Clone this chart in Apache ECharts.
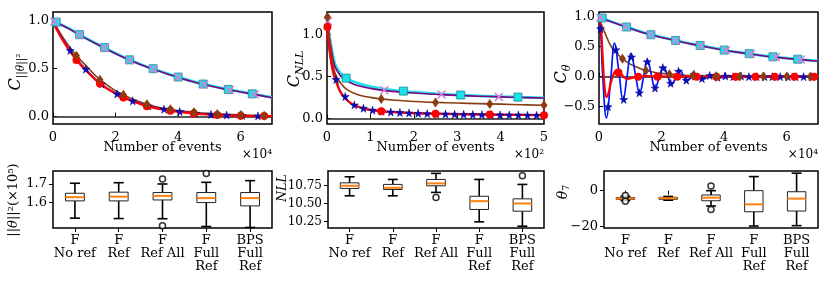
<!DOCTYPE html>
<html><head><meta charset="utf-8">
<script src="https://cdn.jsdelivr.net/npm/echarts@6/dist/echarts.min.js"></script>
<style>html,body{margin:0;padding:0;background:#fff}#c{width:831px;height:286px}</style>
</head><body><div id="c"></div>
<script>
// ---------- Panel 1: C_{||theta||^2} vs number of events (x 1e4) ----------
const p1X = [0,0.25,0.5,0.75,1,1.5,2,2.5,3,3.5,4,4.5,5,5.5,6,6.5,7];
const p1Cyan   = [1.0,0.96,0.92,0.873,0.826,0.742,0.66,0.585,0.52,0.465,0.413,0.365,0.325,0.29,0.26,0.23,0.2];
const p1Purple = [1.0,0.958,0.917,0.87,0.823,0.738,0.656,0.582,0.517,0.462,0.41,0.362,0.322,0.287,0.257,0.228,0.198];
const p1Blue   = [0.99,0.84,0.71,0.6,0.51,0.35,0.245,0.17,0.115,0.08,0.055,0.037,0.025,0.017,0.012,0.008,0.006];
const p1Red    = [0.98,0.83,0.7,0.59,0.5,0.345,0.24,0.165,0.11,0.075,0.05,0.033,0.022,0.015,0.01,0.007,0.005];
const p1Brown  = [1.0,0.86,0.74,0.635,0.55,0.385,0.27,0.19,0.13,0.09,0.065,0.047,0.034,0.025,0.018,0.013,0.01];
const p1CyanMk   = [[0.1,0.985],[0.85,0.854],[1.65,0.72],[2.45,0.592],[3.2,0.5],[4.0,0.413],[4.8,0.34],[5.6,0.284],[6.37,0.238]];
const p1PurpleMk = [[0.05,0.99],[0.85,0.85],[1.65,0.716],[2.45,0.588],[3.2,0.496],[4.0,0.41],[4.83,0.335],[5.65,0.278],[6.45,0.231]];
const p1BlueMk   = [[0.55,0.69],[1.05,0.495],[1.55,0.34],[2.05,0.237],[2.55,0.165],[3.05,0.112],[3.55,0.078],[4.05,0.053],[4.55,0.036],[5.05,0.024],[5.55,0.017],[6.05,0.012],[6.55,0.008]];
const p1RedMk    = [[0.75,0.59],[1.5,0.345],[2.25,0.2],[3.0,0.11],[3.75,0.062],[4.5,0.033],[5.25,0.018],[6.0,0.01],[6.75,0.006]];
const p1BrownMk  = [[0.75,0.635],[1.5,0.385],[2.25,0.228],[3.0,0.13],[3.75,0.077],[4.5,0.047],[5.25,0.029],[6.0,0.018],[6.75,0.011]];
const p1XTicks = [0,2,4,6];
const p1YTicks = [0,0.5,1.0];

// ---------- Panel 2: C_NLL (x 1e2) ----------
const p2X = [0,0.05,0.1,0.15,0.2,0.3,0.4,0.5,0.6,0.8,1.0,1.25,1.5,2,2.5,3,3.5,4,4.5,5];
const p2Cyan   = [1.18,1.0,0.85,0.72,0.63,0.545,0.495,0.465,0.44,0.405,0.38,0.355,0.337,0.312,0.295,0.28,0.268,0.26,0.252,0.245];
const p2Purple = [1.18,0.98,0.82,0.68,0.6,0.515,0.465,0.435,0.41,0.38,0.358,0.337,0.322,0.302,0.287,0.274,0.264,0.256,0.249,0.242];
const p2Brown  = [1.22,0.98,0.78,0.62,0.52,0.43,0.37,0.33,0.305,0.27,0.25,0.232,0.218,0.2,0.19,0.182,0.175,0.169,0.162,0.156];
const p2Red    = [1.1,0.85,0.66,0.53,0.45,0.32,0.25,0.2,0.165,0.125,0.1,0.085,0.075,0.062,0.055,0.05,0.046,0.043,0.04,0.037];
const p2Blue   = [1.08,0.84,0.66,0.54,0.47,0.33,0.255,0.2,0.163,0.122,0.098,0.083,0.073,0.06,0.053,0.048,0.044,0.041,0.038,0.036];
const p2CyanMk   = [[0.44,0.48],[1.76,0.325],[3.08,0.278],[4.4,0.253]];
const p2PurpleMk = [[0.02,1.16],[1.32,0.335],[2.64,0.284],[3.96,0.256]];
const p2BrownMk  = [[0.01,1.21],[1.25,0.232],[2.5,0.19],[3.75,0.172],[5.0,0.156]];
const p2RedMk    = [[0.01,1.09],[1.25,0.085],[2.5,0.055],[3.75,0.044],[5.0,0.037]];
const p2BlueMk   = [[0.21,0.465],[0.42,0.26],[0.63,0.16],[0.84,0.12],[1.05,0.097],[1.26,0.083],[1.47,0.075],[1.68,0.069],[1.89,0.064],[2.1,0.06],[2.31,0.056],[2.52,0.053],[2.73,0.051],[2.94,0.049],[3.15,0.047],[3.36,0.045],[3.57,0.044],[3.78,0.042],[3.99,0.041],[4.2,0.04],[4.41,0.039],[4.62,0.038],[4.83,0.037]];
const p2XTicks = [0,1,2,3,4,5];
const p2YTicks = [0,0.5,1.0];

// ---------- Panel 3: C_theta (x 1e4) ----------
const p3SlowX  = [0,0.5,1,1.5,2,2.5,3,3.5,4,4.5,5,5.5,6,6.5,7];
const p3Cyan   = [1.0,0.9,0.81,0.725,0.66,0.6,0.545,0.495,0.445,0.405,0.37,0.335,0.31,0.285,0.262];
const p3Purple = [0.99,0.895,0.805,0.72,0.655,0.595,0.54,0.49,0.442,0.402,0.366,0.332,0.306,0.282,0.258];
const p3BrownX = [0,0.1,0.2,0.35,0.5,0.75,1,1.25,1.5,1.75,2,2.5,3,3.5,4,5,6,7];
const p3Brown  = [0.97,0.84,0.72,0.54,0.43,0.3,0.21,0.15,0.105,0.075,0.055,0.03,0.015,0.008,0.005,0.002,0.001,0.0];
const p3RedX   = [0,0.06,0.12,0.18,0.24,0.3,0.38,0.46,0.55,0.63,0.72,0.82,0.92,1.05,1.25,1.5,2,3,4,5,6,7];
const p3Red    = [1.0,0.85,0.3,-0.18,-0.34,-0.28,-0.1,0.03,0.1,0.1,0.04,-0.02,-0.035,-0.02,0.0,0.01,0.005,0,0,0,0,0];
const p3BlueX  = [0,0.05,0.12,0.24,0.37,0.5,0.635,0.77,0.895,1.02,1.16,1.3,1.425,1.55,1.67,1.79,1.93,2.07,2.195,2.32,2.455,2.59,2.695,2.8,2.94,3.08,3.215,3.35,3.485,3.62,3.76,3.9,4.05,4.2,4.35,4.5,4.7,5,5.5,6,6.5,7];
const p3Blue   = [1.0,0.8,0.0,-0.69,-0.07,0.56,0.08,-0.39,0.0,0.39,0.05,-0.28,0.0,0.28,0.04,-0.19,-0.01,0.16,0.01,-0.13,-0.01,0.11,0.02,-0.07,-0.01,0.05,0.0,-0.04,0.0,0.03,0.0,-0.02,0.0,0.015,0.0,-0.01,0.0,0.005,0.0,0.0,0.0,0.0];
const p3CyanMk   = [[0.1,0.98],[0.88,0.83],[1.66,0.70],[2.45,0.605],[3.23,0.522],[4.0,0.445],[4.8,0.384],[5.56,0.332],[6.35,0.292]];
const p3PurpleMk = [[0.05,0.985],[0.85,0.83],[1.65,0.70],[2.45,0.6],[3.25,0.517],[4.05,0.44],[4.85,0.377],[5.65,0.326],[6.45,0.286]];
const p3BlueMk   = [[0.05,0.8],[0.29,-0.5],[0.54,0.45],[0.79,-0.38],[1.04,0.33],[1.29,-0.27],[1.54,0.25],[1.79,-0.19],[2.04,0.15],[2.29,-0.11],[2.54,0.09],[2.79,-0.06],[3.04,0.04],[3.29,-0.03],[3.54,0.02],[3.79,-0.01],[4.04,0.01],[4.29,0.0],[4.54,0.01],[4.79,0.0],[5.04,0.0],[5.29,0.0],[5.54,0.0],[5.79,0.0],[6.04,0.0],[6.29,0.0],[6.54,0.0],[6.79,0.0]];
const p3RedMk    = [[0.62,0.07],[1.25,0.0],[1.87,0.0],[2.5,0.0],[3.12,0.0],[3.75,0.0],[4.37,0.0],[5.0,0.0],[5.62,0.0],[6.25,0.0],[6.87,0.0]];
const p3BrownMk  = [[0.75,0.3],[1.5,0.105],[2.25,0.04],[3.0,0.015],[3.75,0.006],[4.5,0.003],[5.25,0.002],[6.0,0.001],[6.75,0.0]];
const p3XTicks = [0,2,4,6];
const p3YTicks = [-0.5,0,0.5,1.0];

// ---------- Box plots: [min, Q1, median, Q3, max] ----------
const boxCats = ['F\nNo ref','F\nRef','F\nRef All','F\nFull\nRef','BPS\nFull\nRef'];
const normBox  = [[1.516,1.609,1.629,1.650,1.704],[1.514,1.609,1.632,1.656,1.707],[1.513,1.614,1.636,1.654,1.700],[1.471,1.600,1.624,1.654,1.709],[1.466,1.582,1.624,1.654,1.718]];
const normOut  = [[2,1.727],[2,1.475],[3,1.757]];
const nllBox   = [[10.606,10.708,10.745,10.786,10.870],[10.606,10.694,10.717,10.764,10.833],[10.653,10.745,10.778,10.833,10.917],[10.245,10.417,10.532,10.600,10.833],[10.185,10.393,10.500,10.564,10.764]];
const nllOut   = [[2,10.583],[4,10.883]];
const thetaBox = [[-5.5,-4.8,-4.3,-3.8,-3.1],[-5.3,-4.8,-4.2,-3.7,-3.2],[-8.5,-5.6,-3.9,-2.4,0.0],[-19.6,-11.7,-7.6,0.0,7.8],[-19.4,-11.3,-4.4,-0.6,9.7]];
const thetaOut = [[0,-2.7],[0,-5.9],[2,2.6],[2,-10.4]];
const normYTicks = [1.6,1.7];
const nllYTicks = [10.25,10.5,10.75];
const thetaYTicks = [-20,0];

// ---------- styling ----------
const FONT = '"DejaVu Serif", serif';
const FS = 13;
const STAR = 'path://M50,0 L61,35 L98,35 L68,57 L79,91 L50,70 L21,91 L32,57 L2,35 L39,35 Z';
const XMARK = 'path://M0,12 L12,0 L50,38 L88,0 L100,12 L62,50 L100,88 L88,100 L50,62 L12,100 L0,88 L38,50 Z';
const C = {cyan:'#1fe0ea', cyanEdge:'#178a8f', purple:'#800080', xmk:'#d47fd6', red:'#ff0000', brown:'#8b3d12', blue:'#0018ff', star:'#0a0ac8'};
const minus = s => String(s).replace('-', '\u2212');

const grids = [
  {left:53, top:12, width:219, height:112},
  {left:327, top:12, width:217, height:112},
  {left:599, top:12, width:219, height:112},
  {left:53, top:171, width:219, height:57},
  {left:328, top:171, width:216, height:57},
  {left:604, top:171, width:214, height:57}
].map(g => Object.assign(g, {show:true, borderColor:'#000', borderWidth:1.5, backgroundColor:'transparent'}));

function valX(gi, max, ticks) {
  return {gridIndex:gi, type:'value', min:0, max:max, axisLine:{show:false}, splitLine:{show:false},
    axisTick:{show:true, inside:true, length:4, customValues:ticks, lineStyle:{color:'#000', width:1}},
    axisLabel:{customValues:ticks, color:'#000', fontFamily:FONT, fontSize:FS, margin:7, formatter:v=>String(v)}};
}
function valY(gi, min, max, ticks, dec, inside, fs) {
  return {gridIndex:gi, type:'value', min:min, max:max, axisLine:{show:false}, splitLine:{show:false},
    axisTick:{show:true, inside:inside, length:4, customValues:ticks, lineStyle:{color:'#000', width:1}},
    axisLabel:{customValues:ticks, color:'#000', fontFamily:FONT, fontSize:fs || FS, margin:inside?4:6, formatter:v=>minus(v.toFixed(dec))}};
}
function catX(gi) {
  return {gridIndex:gi, type:'category', data:boxCats, boundaryGap:true, axisLine:{show:false}, splitLine:{show:false},
    axisTick:{show:true, alignWithLabel:true, inside:false, length:4, lineStyle:{color:'#000', width:1}},
    axisLabel:{interval:0, color:'#000', fontFamily:FONT, fontSize:FS, lineHeight:13, margin:6}};
}

function line(gi, xs, ys, color, width, z) {
  return {type:'line', xAxisIndex:gi, yAxisIndex:gi, data:xs.map((x,i)=>[x, ys[i]]), smooth:0.45,
    showSymbol:false, symbol:'none', lineStyle:{color:color, width:width}, z:z, silent:true};
}
function marks(gi, pts, symbol, size, fill, edge, bw, z) {
  return {type:'scatter', xAxisIndex:gi, yAxisIndex:gi, data:pts, symbol:symbol, symbolSize:size,
    itemStyle:{color:fill, borderColor:edge, borderWidth:bw, opacity:1}, z:z, silent:true};
}
function zeroLine(gi) {
  return {type:'line', xAxisIndex:gi, yAxisIndex:gi, data:[], z:1, silent:true,
    markLine:{silent:true, symbol:'none', label:{show:false}, data:[{yAxis:0}], lineStyle:{color:'#222', width:1.6, type:'solid'}}};
}
function topSeries(gi, d) {
  return [
    zeroLine(gi),
    line(gi, d.cx, d.cyan, C.cyan, 2.8, 2),
    line(gi, d.cx, d.purple, C.purple, 1.6, 3),
    line(gi, d.bx, d.brown, C.brown, 1.6, 4),
    line(gi, d.ux, d.blue, C.blue, 1.7, 5),
    line(gi, d.rx, d.red, C.red, 2.2, 6),
    marks(gi, d.cm, 'rect', 8, C.cyan, C.cyanEdge, 0.8, 7),
    marks(gi, d.pm, XMARK, 9, C.xmk, C.xmk, 0, 8),
    marks(gi, d.um, STAR, 8, C.star, '#000080', 0.5, 9),
    marks(gi, d.rm, 'circle', 8, C.red, C.red, 0, 10),
    marks(gi, d.bm, 'diamond', [7,10], C.brown, C.brown, 0, 11)
  ];
}

function boxItem(params, api) {
  const c = api.value(0);
  const lo = api.coord([c, api.value(1)]), q1 = api.coord([c, api.value(2)]), md = api.coord([c, api.value(3)]);
  const q3 = api.coord([c, api.value(4)]), hi = api.coord([c, api.value(5)]);
  const band = api.size([1, 0])[0];
  const bw = band * 0.43, cw = band * 0.23, x = lo[0];
  const wl = {stroke:'#000', lineWidth:1.6};
  return {type:'group', children:[
    {type:'line', shape:{x1:x, y1:lo[1], x2:x, y2:q1[1]}, style:wl},
    {type:'line', shape:{x1:x, y1:q3[1], x2:x, y2:hi[1]}, style:wl},
    {type:'line', shape:{x1:x-cw/2, y1:lo[1], x2:x+cw/2, y2:lo[1]}, style:wl},
    {type:'line', shape:{x1:x-cw/2, y1:hi[1], x2:x+cw/2, y2:hi[1]}, style:wl},
    {type:'rect', shape:{x:x-bw/2, y:q3[1], width:bw, height:q1[1]-q3[1]}, style:{fill:'#fff', stroke:'#222', lineWidth:1}},
    {type:'line', shape:{x1:x-bw/2, y1:md[1], x2:x+bw/2, y2:md[1]}, style:{stroke:'#ff7f0e', lineWidth:2}}
  ]};
}
function boxSeries(gi, box, out) {
  return [
    {type:'custom', xAxisIndex:gi, yAxisIndex:gi, renderItem:boxItem, silent:true, z:3,
      encode:{x:0, y:[1,2,3,4,5]}, data:box.map((b,i)=>[i].concat(b))},
    {type:'scatter', xAxisIndex:gi, yAxisIndex:gi, data:out, symbol:'circle', symbolSize:6, silent:true, z:4,
      itemStyle:{color:'#fff', borderColor:'#000', borderWidth:1.5}}
  ];
}

const series = [].concat(
  topSeries(0, {cx:p1X, cyan:p1Cyan, purple:p1Purple, bx:p1X, brown:p1Brown, ux:p1X, blue:p1Blue, rx:p1X, red:p1Red,
    cm:p1CyanMk, pm:p1PurpleMk, um:p1BlueMk, rm:p1RedMk, bm:p1BrownMk}),
  topSeries(1, {cx:p2X, cyan:p2Cyan, purple:p2Purple, bx:p2X, brown:p2Brown, ux:p2X, blue:p2Blue, rx:p2X, red:p2Red,
    cm:p2CyanMk, pm:p2PurpleMk, um:p2BlueMk, rm:p2RedMk, bm:p2BrownMk}),
  topSeries(2, {cx:p3SlowX, cyan:p3Cyan, purple:p3Purple, bx:p3BrownX, brown:p3Brown, ux:p3BlueX, blue:p3Blue, rx:p3RedX, red:p3Red,
    cm:p3CyanMk, pm:p3PurpleMk, um:p3BlueMk, rm:p3RedMk, bm:p3BrownMk}),
  boxSeries(3, normBox, normOut),
  boxSeries(4, nllBox, nllOut),
  boxSeries(5, thetaBox, thetaOut)
);

const T = (o) => Object.assign({fontFamily:FONT, fill:'#000', align:'center', verticalAlign:'middle'}, o);
const it = (fs) => ({fontFamily:FONT, fontSize:fs, fontStyle:'italic'});
const up = (fs) => ({fontFamily:FONT, fontSize:fs});
const graphic = [
  {type:'text', x:16, y:72, rotation:Math.PI/2, style:T({text:'{c|C}{s|||}{si|θ}{s|||²}',
    rich:{c:Object.assign(it(16),{lineHeight:22}), s:Object.assign(up(10.5),{lineHeight:11, verticalAlign:'bottom'}), si:Object.assign(it(10.5),{lineHeight:11, verticalAlign:'bottom'})}})},
  {type:'text', x:295, y:69, rotation:Math.PI/2, style:T({text:'{c|C}{s|NLL}',
    rich:{c:Object.assign(it(16),{lineHeight:22}), s:Object.assign(it(11),{lineHeight:11, verticalAlign:'bottom'})}})},
  {type:'text', x:562, y:74, rotation:Math.PI/2, style:T({text:'{c|C}{s|θ}',
    rich:{c:Object.assign(it(16),{lineHeight:22}), s:Object.assign(it(11),{lineHeight:11, verticalAlign:'bottom'})}})},
  {type:'text', x:14, y:200, rotation:Math.PI/2, style:T({text:'{n|||}{i|θ}{n|||²(×10⁵)}', rich:{n:up(13), i:it(13)}})},
  {type:'text', x:283, y:188, rotation:Math.PI/2, style:T({text:'NLL', fontSize:12.5, fontStyle:'italic'})},
  {type:'text', x:563, y:192, rotation:Math.PI/2, style:T({text:'{c|θ}{s|7}',
    rich:{c:Object.assign(it(14),{lineHeight:18}), s:Object.assign(up(9.5),{lineHeight:10, verticalAlign:'bottom'})}})},
  {type:'text', x:162.5, y:148, style:T({text:'Number of events', fontSize:FS})},
  {type:'text', x:435.5, y:148, style:T({text:'Number of events', fontSize:FS})},
  {type:'text', x:708.5, y:148, style:T({text:'Number of events', fontSize:FS})},
  {type:'text', x:272, y:155, style:T({text:'×10⁴', fontSize:12, align:'right'})},
  {type:'text', x:544, y:155, style:T({text:'×10²', fontSize:12, align:'right'})},
  {type:'text', x:818, y:155, style:T({text:'×10⁴', fontSize:12, align:'right'})}
];

const chart = echarts.init(document.getElementById('c'), null, {renderer:'canvas'});
chart.setOption({
  animation:false,
  backgroundColor:'#fff',
  grid:grids,
  xAxis:[valX(0,7,p1XTicks), valX(1,5,p2XTicks), valX(2,7,p3XTicks), catX(3), catX(4), catX(5)],
  yAxis:[valY(0,-0.076,1.09,p1YTicks,1,true), valY(1,-0.068,1.27,p2YTicks,1,true), valY(2,-0.79,1.08,p3YTicks,1,true),
         valY(3,1.463,1.77,normYTicks,1,false), valY(4,10.16,10.95,nllYTicks,2,false,12), valY(5,-20.7,10.9,thetaYTicks,0,false)],
  series:series,
  graphic:graphic
});
</script></body></html>
